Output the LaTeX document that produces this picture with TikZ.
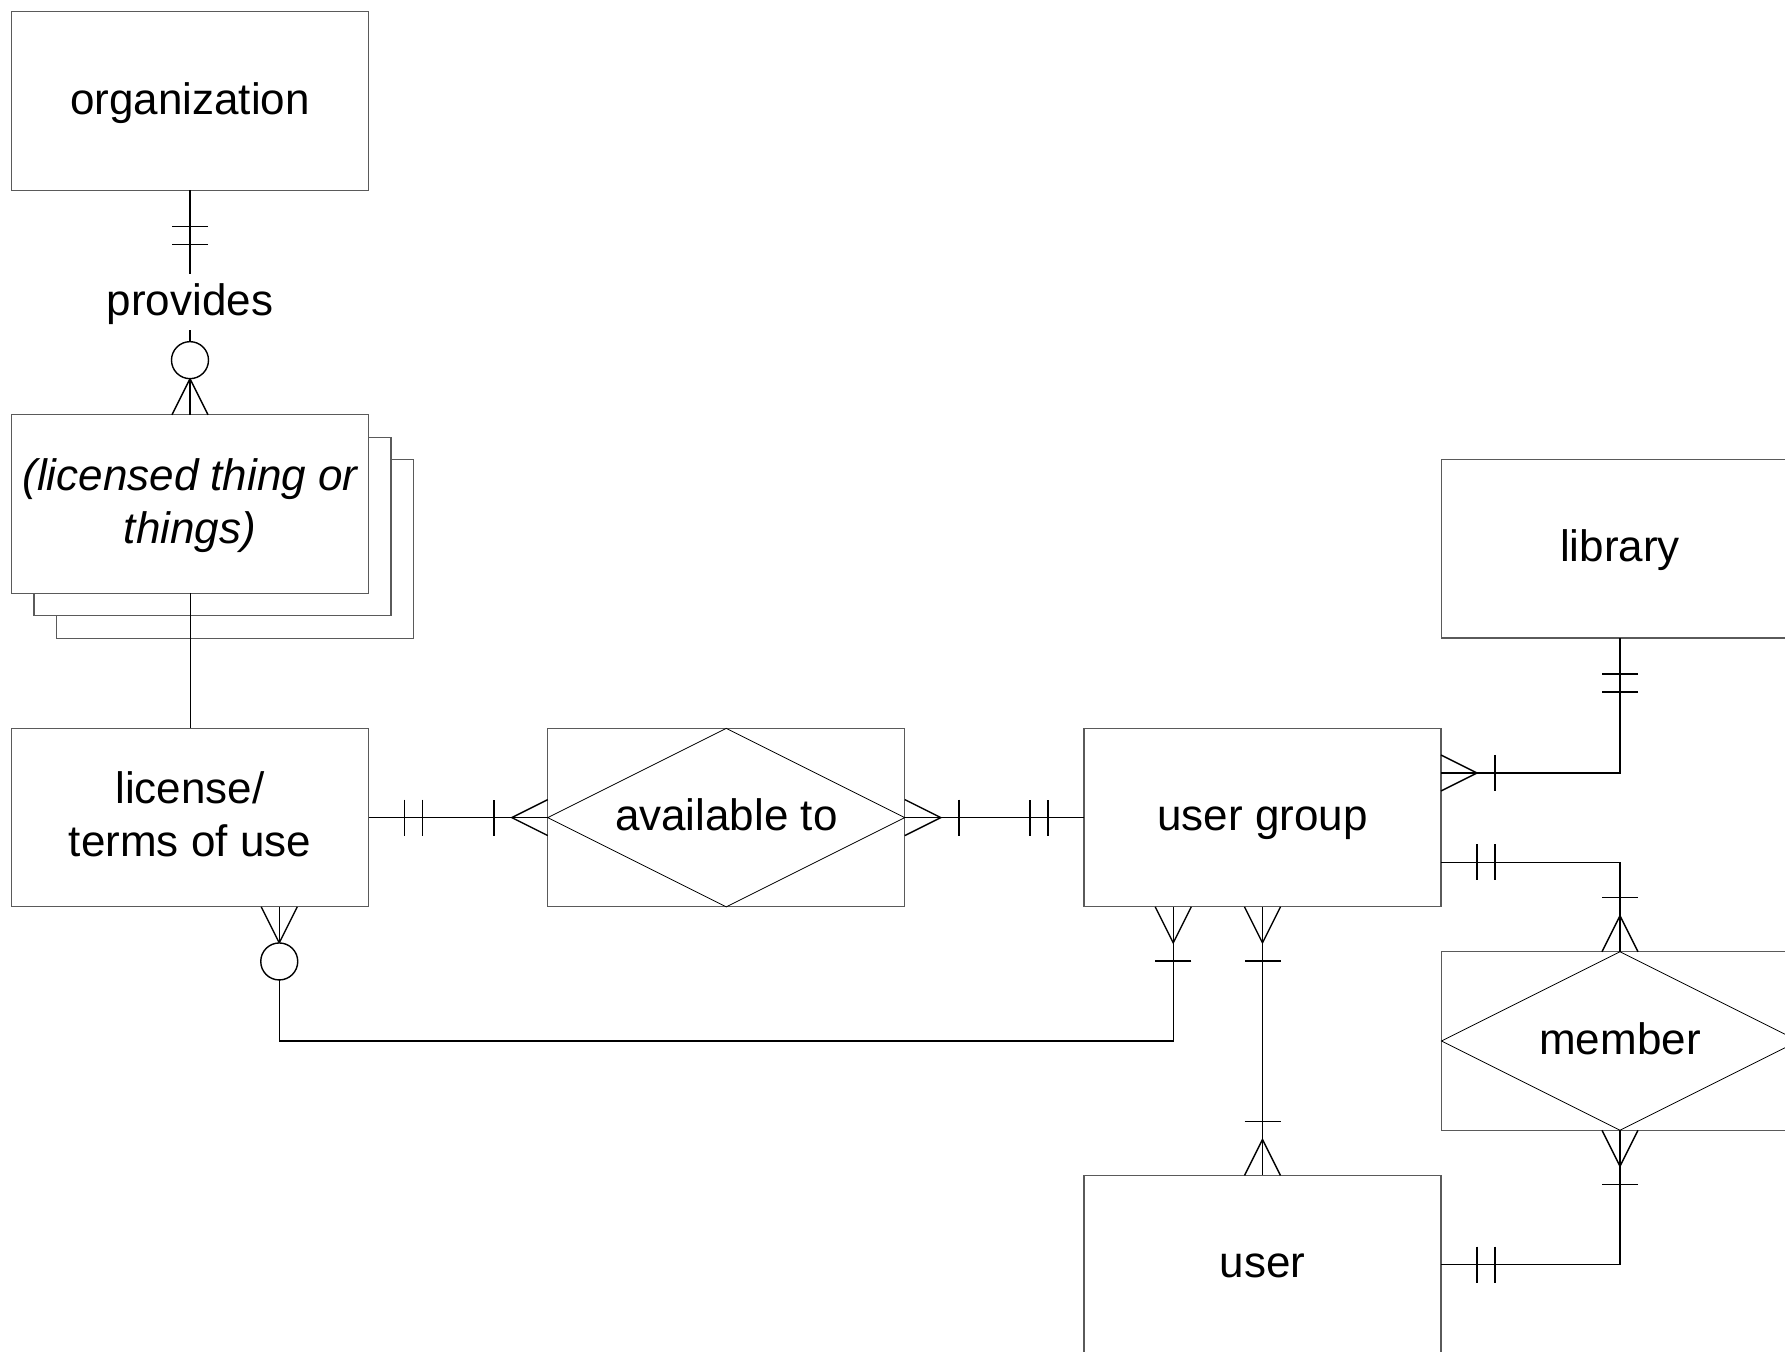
\documentclass[tikz,border=0pt]{standalone}
\usepackage{fontspec}
\setmainfont{Liberation Sans}
\usetikzlibrary{calc}
\definecolor{boxline}{HTML}{5A5A5A}
\begin{document}
\begin{tikzpicture}[x=0.5pt,y=-0.5pt,
  entity/.style={draw=boxline,line width=0.55pt,fill=white,outer sep=0pt,inner sep=0pt,
    minimum width=178.5pt,minimum height=89.25pt,align=center,
    font=\fontsize{22}{26.5}\selectfont,text height=18pt,text depth=5pt},
  twoline/.style={text height=44.5pt,text depth=5.5pt},
  conn/.style={line width=0.7pt,black,line cap=butt},
  thinconn/.style={line width=0.5pt,black},
  diam/.style={line width=0.4pt,black},
  lbl/.style={fill=white,inner xsep=2pt,inner ysep=2.5pt,outer sep=0pt,
    font=\fontsize{22}{26.5}\selectfont,text height=18pt,text depth=5pt},
  crowfoot/.pic={\draw[conn] (0,18) -- (36,0) -- (0,-18);},
  onebar/.pic={\draw[conn] (54,-18) -- (54,18);},
  twobars/.pic={\draw[conn] (36,-18) -- (36,18) (54,-18) -- (54,18);},
  ringmark/.pic={\draw[conn,fill=white] (54.6,0) circle[radius=18.5];}
]
\fill[white] (0,0) rectangle (1785,1351);
\useasboundingbox (0,0) rectangle (1785,1351);

% entities
\node[entity] (org) at (190,101) {organization};
\node[entity] (back2) at (235,549) {};
\node[entity] (back1) at (212.5,526.5) {};
\node[entity,twoline,font=\fontsize{22}{26.5}\selectfont\itshape] (licensed) at (190,504) {(licensed thing or\\things)};
\node[entity,twoline] (license) at (190,817.6) {license/\\terms of use};
\node[entity] (avail) at (726.3,817.6) {};
\draw[diam] (avail.north) -- (avail.east) -- (avail.south) -- (avail.west) -- cycle;
\node[font=\fontsize{22}{26.5}\selectfont,text height=18pt,text depth=5pt,inner sep=0pt] (availtxt) at (avail.center) {available to};
\node[entity] (ug) at (1262.5,817.6) {user group};
\node[entity] (library) at (1620,548.7) {library};
\node[entity] (member) at (1620,1041) {};
\draw[diam] (member.north) -- (member.east) -- (member.south) -- (member.west) -- cycle;
\node[font=\fontsize{22}{26.5}\selectfont,text height=18pt,text depth=5pt,inner sep=0pt] (membertxt) at (member.center) {member};
\node[entity] (user) at (1262.5,1264.7) {user};

% attachment points
\coordinate (ugA) at ($(ug.north east)!0.25!(ug.south east)$);
\coordinate (ugB) at ($(ug.north east)!0.75!(ug.south east)$);
\coordinate (ugD) at ($(ug.south west)!0.25!(ug.south east)$);
\coordinate (licB) at ($(license.south west)!0.75!(license.south east)$);

% organization provides licensed things
\draw[conn] (org.south) -- (licensed.north);
\pic[rotate=-90] at (org.south) {twobars};
\pic[rotate=90] at (licensed.north) {crowfoot};
\pic[rotate=90] at (licensed.north) {ringmark};
\node[lbl] (prov) at (190,302) {provides};

% licensed things to license
\draw[thinconn] (licensed.south) -- (license.north);

% license -- available to -- user group
\draw[conn] (license.east) -- (avail.west);
\pic at (license.east) {twobars};
\pic[rotate=180] at (avail.west) {crowfoot};
\pic[rotate=180] at (avail.west) {onebar};
\draw[conn] (avail.east) -- (ug.west);
\pic at (avail.east) {crowfoot};
\pic at (avail.east) {onebar};
\pic[rotate=180] at (ug.west) {twobars};

% user group -- library
\draw[conn] (ugA) -| (library.south);
\pic at (ugA) {crowfoot};
\pic at (ugA) {onebar};
\pic[rotate=-90] at (library.south) {twobars};

% user group -- member
\draw[conn] (ugB) -| (member.north);
\pic at (ugB) {twobars};
\pic[rotate=90] at (member.north) {crowfoot};
\pic[rotate=90] at (member.north) {onebar};

% user group -- user
\draw[conn] (ug.south) -- (user.north);
\pic[rotate=-90] at (ug.south) {crowfoot};
\pic[rotate=-90] at (ug.south) {onebar};
\pic[rotate=90] at (user.north) {crowfoot};
\pic[rotate=90] at (user.north) {onebar};

% license -- user group (lower loop)
\draw[conn] (licB) |- ($(ugD)+(0,134.3)$) -- (ugD);
\pic[rotate=-90] at (licB) {crowfoot};
\pic[rotate=-90] at (licB) {ringmark};
\pic[rotate=-90] at (ugD) {crowfoot};
\pic[rotate=-90] at (ugD) {onebar};

% member -- user
\draw[conn] (member.south) |- (user.east);
\pic[rotate=-90] at (member.south) {crowfoot};
\pic[rotate=-90] at (member.south) {onebar};
\pic at (user.east) {twobars};
\end{tikzpicture}
\end{document}
